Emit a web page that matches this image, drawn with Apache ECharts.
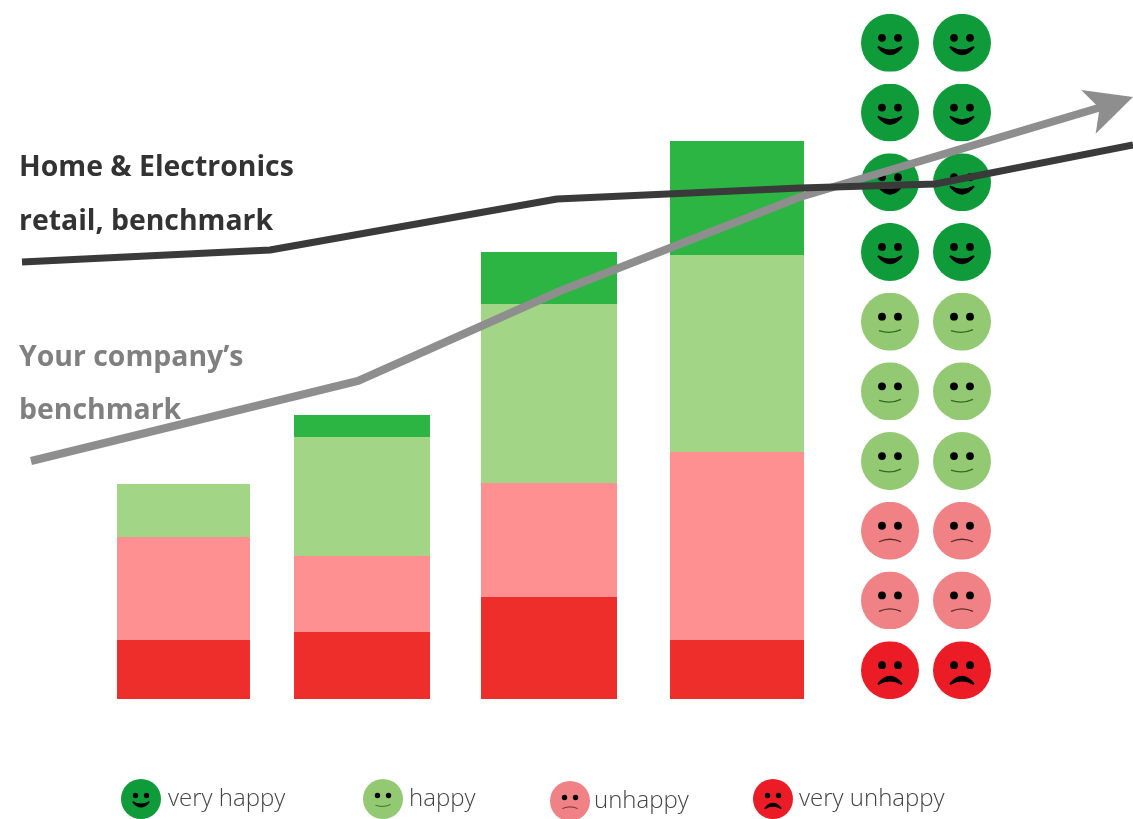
<!DOCTYPE html>
<html><head><meta charset="utf-8">
<style>html,body{margin:0;padding:0;background:#fff}#c{width:1133px;height:819px}</style>
<script src="https://cdn.jsdelivr.net/npm/echarts@6/dist/echarts.min.js"></script>
</head><body><div id="c"></div>
<script>
const moods = ['very unhappy', 'unhappy', 'happy', 'very happy'];
const barLeft = [117, 294, 481, 670];
const barRight = [250, 430, 617, 804];
const veryUnhappy = [59, 67, 102, 59];
const unhappy = [103, 76, 114, 188];
const happy = [53, 119, 179, 197];
const veryHappy = [0, 22, 52, 114];
const industryX = [22, 270, 557, 800, 935, 1133];
const industryY = [437, 449, 500, 511, 515, 554];
const companyX = [31, 358, 560, 800, 1105];
const companyY = [238, 318, 408, 502, 593];
const arrowTip = [1133, 602];
const faceColumns = ['a', 'b'];
const faceRows = ['1','2','3','4','5','6','7','8','9','10'];
const faceMoods = ['very happy','very happy','very happy','very happy','happy','happy','happy','unhappy','unhappy','very unhappy'];
const title1 = 'Home & Electronics\nretail, benchmark';
const title2 = 'Your company\u2019s\nbenchmark';

const barColors = {'very happy':'#2db544','happy':'#a2d585','unhappy':'#fe9092','very unhappy':'#ee2e2a'};
const faceColors = {'very happy':'#0f9b3a','happy':'#93c973','unhappy':'#f08285','very unhappy':'#ec1c26'};
const mouths = {
  'very happy':'<path d="M-12 4 Q0 19 12 4 Q0 11 -12 4Z" fill="#000" stroke="#000" stroke-width="1.8"/>',
  'happy':'<path d="M-11 9 Q0 13 11 8" fill="none" stroke="#2f6b22" stroke-width="1.3"/>',
  'unhappy':'<path d="M-11 11 Q0 6 11 11" fill="none" stroke="#5a2a2a" stroke-width="1.3"/>',
  'very unhappy':'<path d="M-12 14 Q0 -1 12 14 Q0 7 -12 14Z" fill="#000" stroke="#000" stroke-width="1.8"/>'
};
function faceIcon(m){
  const svg = '<svg xmlns="http://www.w3.org/2000/svg" width="116" height="116" viewBox="-29 -29 58 58">'
    + '<circle r="29" fill="'+faceColors[m]+'"/>'
    + '<circle cx="-8" cy="-5" r="3.9" fill="#000"/><circle cx="8" cy="-5" r="3.9" fill="#000"/>'
    + mouths[m] + '</svg>';
  return 'image://data:image/svg+xml;charset=utf-8,' + encodeURIComponent(svg);
}
function segment(params, api){
  const a = api.coord([api.value(0), api.value(2)]);
  const b = api.coord([api.value(1), api.value(3)]);
  return {type:'rect', shape:{x:a[0], y:b[1], width:b[0]-a[0], height:a[1]-b[1]},
          style:{fill:api.visual('color')}};
}
const running = barLeft.map(()=>0);
const barSeries = [[veryUnhappy,moods[0]],[unhappy,moods[1]],[happy,moods[2]],[veryHappy,moods[3]]].map(([v,n]) => ({
  type:'custom', name:n, xAxisIndex:0, yAxisIndex:0, renderItem:segment, z:2,
  encode:{x:[0,1],y:[2,3]},
  itemStyle:{color:barColors[n]},
  data:v.map((h,i)=>{const base=running[i]; running[i]+=h; return [barLeft[i],barRight[i],base,running[i]];})
}));
const faceData = [];
faceRows.forEach((r,i)=>faceColumns.forEach(c=>faceData.push([c,r,faceMoods[i]])));
const legendLeft = {'very happy':121,'happy':363,'unhappy':550,'very unhappy':753};
const legendTop = {'very happy':779,'happy':779,'unhappy':781,'very unhappy':779};
const legendTextPad = {'very happy':[0,0,0,2],'happy':[0,0,0,1],'unhappy':[0,0,4,-1],'very unhappy':[0,0,0,1]};
const textFont = '"Open Sans"';

const option = {
  animation:false, backgroundColor:'#fff',
  title:[
    {text:title1,left:19,top:141,padding:0,textStyle:{fontFamily:textFont,fontSize:28.4,fontWeight:700,color:'#333333',lineHeight:54}},
    {text:title2,left:19,top:331,padding:0,textStyle:{fontFamily:textFont,fontSize:28.4,fontWeight:700,color:'#808080',lineHeight:53}}
  ],
  legend:moods.slice().reverse().map(m=>({
    data:[{name:m,icon:faceIcon(m)}], left:legendLeft[m], top:legendTop[m], padding:0,
    itemWidth:40,itemHeight:40,selectedMode:false,
    textStyle:{fontFamily:textFont,fontSize:24,fontWeight:300,color:'#444444',padding:legendTextPad[m]}
  })),
  grid:[{left:0,right:0,top:0,bottom:0},{left:854,width:144,top:8,height:697}],
  xAxis:[
    {type:'value',gridIndex:0,min:0,max:1133,show:false},
    {type:'category',gridIndex:1,data:faceColumns,show:false}
  ],
  yAxis:[
    {type:'value',gridIndex:0,min:-120,max:699,show:false},
    {type:'category',gridIndex:1,data:faceRows,inverse:true,show:false}
  ],
  series:[
    ...barSeries,
    {type:'scatter',xAxisIndex:1,yAxisIndex:1,z:3,symbolSize:58,itemStyle:{opacity:1},
      symbol:(v)=>faceIcon(v[2]),data:faceData},
    {type:'line',xAxisIndex:0,yAxisIndex:0,z:4,name:'Your company\u2019s benchmark',
      symbol:'none',
      lineStyle:{color:'#8e8e8e',width:8,cap:'butt',join:'miter'},
      data:companyX.map((x,i)=>[x,companyY[i]])},
    {type:'scatter',xAxisIndex:0,yAxisIndex:0,z:4,symbol:'arrow',symbolSize:[34.5,47],symbolRotate:-71.6,
      itemStyle:{color:'#8e8e8e',opacity:1},clip:false,data:[arrowTip]},
    {type:'line',xAxisIndex:0,yAxisIndex:0,z:5,name:'Home & Electronics retail, benchmark',
      symbol:'none',lineStyle:{color:'#3a3a3a',width:7,cap:'butt',join:'round'},
      data:industryX.map((x,i)=>[x,industryY[i]])}
  ]
};
echarts.init(document.getElementById('c'),null,{renderer:'canvas'}).setOption(option);
</script></body></html>
